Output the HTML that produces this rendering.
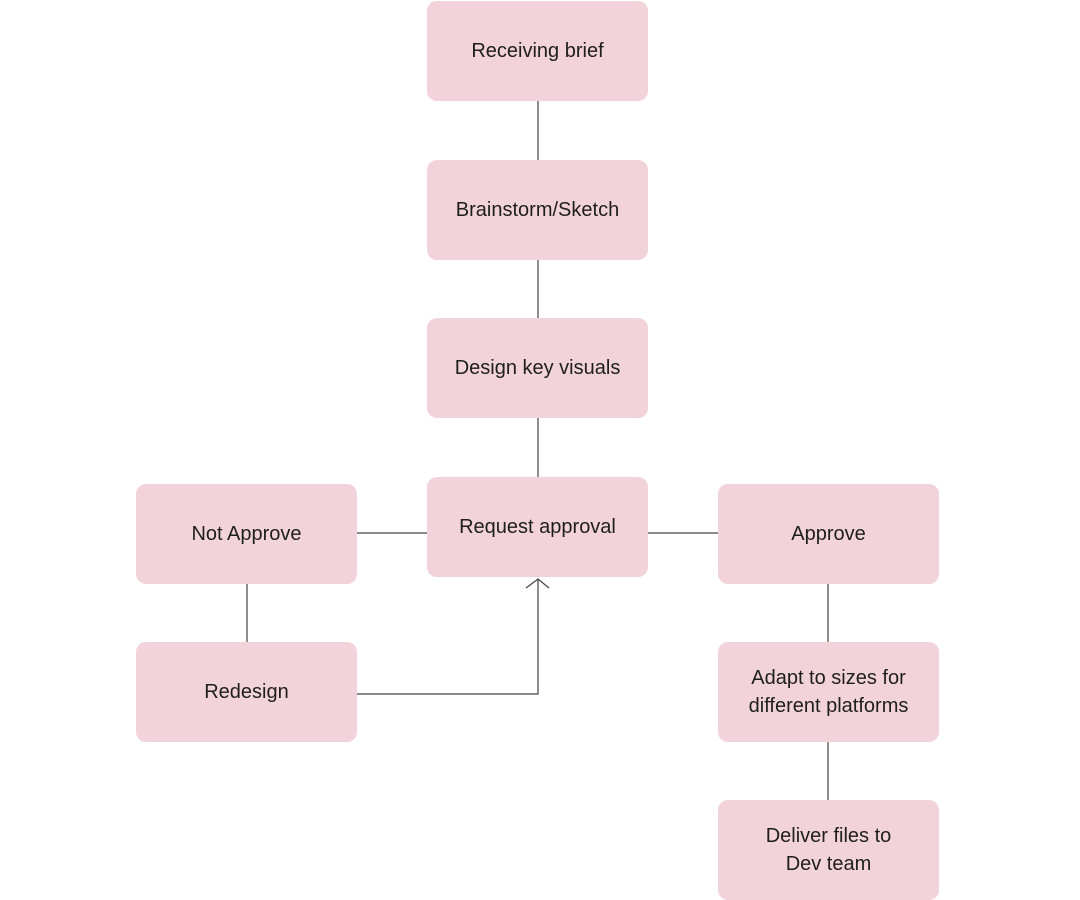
<!DOCTYPE html>
<html><head><meta charset="utf-8"><style>
body{margin:0;width:1080px;height:900px;background:#fff;position:relative;overflow:hidden;font-family:"Liberation Sans","Noto Sans CJK SC",sans-serif;}
.b{position:absolute;width:221px;height:100px;background:#f2d3dc;border-radius:10px;display:flex;align-items:center;justify-content:center;text-align:center;font-size:20px;color:#1e1e1e;line-height:28px;}
svg{position:absolute;left:0;top:0}
</style></head><body>
<svg width="1080" height="900">
<g stroke="#444" stroke-width="1.2" fill="none">
<line x1="538" y1="101" x2="538" y2="160"/>
<line x1="538" y1="260" x2="538" y2="318"/>
<line x1="538" y1="418" x2="538" y2="477"/>
<line x1="357" y1="533" x2="427" y2="533"/>
<line x1="648" y1="533" x2="718" y2="533"/>
<line x1="247" y1="584" x2="247" y2="642"/>
<line x1="828" y1="584" x2="828" y2="642"/>
<line x1="828" y1="742" x2="828" y2="800"/>
<polyline points="357,694 538,694 538,579"/>
<polyline points="526,588 538,579 549,588"/>
</g></svg>
<div class="b" style="left:427px;top:1px">Receiving brief</div>
<div class="b" style="left:427px;top:160px">Brainstorm/Sketch</div>
<div class="b" style="left:427px;top:318px">Design key visuals</div>
<div class="b" style="left:427px;top:477px;align-items:flex-start;padding-top:36px;box-sizing:border-box">Request approval</div>
<div class="b" style="left:136px;top:484px">Not Approve</div>
<div class="b" style="left:136px;top:642px">Redesign</div>
<div class="b" style="left:718px;top:484px">Approve</div>
<div class="b" style="left:718px;top:642px">Adapt to sizes for<br>different platforms</div>
<div class="b" style="left:718px;top:800px">Deliver files to<br>Dev team</div>
</body></html>
